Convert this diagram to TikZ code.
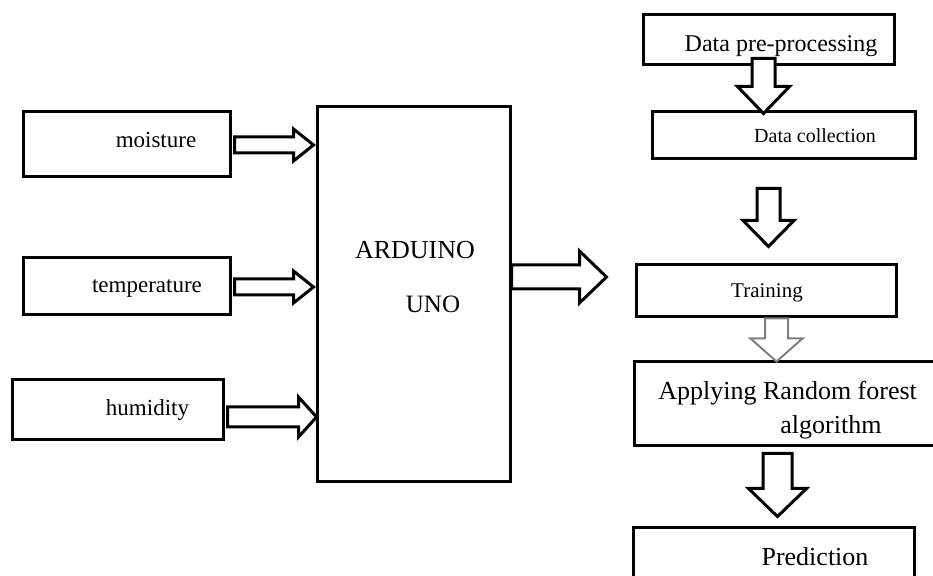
\documentclass[tikz,border=0pt]{standalone}
\usepackage{fontspec}
\setmainfont{Liberation Serif}
\usetikzlibrary{calc}

% hollow block arrows: start, tip, shaft half width, head half width, head length
\newcommand{\rarrow}[6][]{%
\draw[blockarrow,#1] ($(#2)+(0,-#4)$) -- ($(#3)+(-#6,-#4)$) -- ($(#3)+(-#6,-#5)$) -- (#3)
  -- ($(#3)+(-#6,#5)$) -- ($(#3)+(-#6,#4)$) -- ($(#2)+(0,#4)$) -- cycle;}
\newcommand{\darrow}[6][]{%
\draw[blockarrow,#1] ($(#2)+(-#4,0)$) -- ($(#3)+(-#4,-#6)$) -- ($(#3)+(-#5,-#6)$) -- (#3)
  -- ($(#3)+(#5,-#6)$) -- ($(#3)+(#4,-#6)$) -- ($(#2)+(#4,0)$) -- cycle;}

\begin{document}
\begin{tikzpicture}[x=0.5pt,y=-0.5pt,
  box/.style 2 args={draw,line width=1.5pt,inner sep=0pt,minimum width=#1*0.5pt,minimum height=#2*0.5pt},
  lbl/.style={inner sep=0pt,anchor=base,font=\fontsize{#1pt}{#1pt}\selectfont},
  blockarrow/.style={draw,line width=1.5pt,line join=miter,fill=white}]
\path[use as bounding box] (0,0) rectangle (933,576);
\clip (0,0) rectangle (933,576);

% sensors
\node[box={207}{65}] (moist) at (126.5,144.5) {};
\node[lbl=11.5] (moistT) at (156,148) {moisture};
\node[box={207}{57}] (temp) at (126.5,286.5) {};
\node[lbl=11.5] (tempT) at (147,293) {temperature};
\node[box={211}{60}] (hum) at (117.5,410) {};
\node[lbl=11.5] (humT) at (147.5,416) {humidity};

% board
\node[box={193}{375}] (ard) at (413.5,294.5) {};
\node[lbl=13] (ardT) at (415,259) {ARDUINO};
\node[lbl=12.5] (unoT) at (433,313) {UNO};

% model side
\node[box={251}{50}] (pre) at (768.5,40) {};
\node[lbl=12] (preT) at (781,52) {Data pre-processing};
\node[box={263}{47}] (col) at (783.5,135.5) {};
\node[lbl=10] (colT) at (815,143) {Data collection};
\node[box={260}{52}] (train) at (766,291) {};
\node[lbl=10.5] (trainT) at (767,298) {Training};
\node[box={320}{84}] (apply) at (794,404) {};
\node[inner sep=0pt,anchor=north west,align=left,font=\fontsize{13pt}{17pt}\selectfont] (applyT) at (658,381)
  {Applying Random forest\\\hspace*{61pt}algorithm};
\node[box={281}{72}] (pred) at (773.5,564) {};
\node[lbl=13] (predT) at (815,566) {Prediction};

% sensor arrows
\coordinate (m1) at ($(moist.east)+(3,0.5)$);
\coordinate (m2) at ($(ard.west |- m1)+(-2,0)$);
\rarrow{m1}{m2}{8}{16}{20}
\coordinate (t1) at ($(temp.east)+(3,0.5)$);
\coordinate (t2) at ($(ard.west |- t1)+(-2,0)$);
\rarrow{t1}{t2}{8}{16}{20}
\coordinate (h1) at ($(hum.east)+(3,7)$);
\coordinate (h2) at ($(ard.west |- h1)+(1,0)$);
\rarrow{h1}{h2}{10}{20}{18}
\coordinate (a1) at ($(ard.east)+(0,-17.5)$);
\coordinate (a2) at ($(a1)+(95,0)$);
\rarrow{a1}{a2}{12}{26}{27}

% flow arrows
\coordinate (p1) at ($(pre.south)+(-5,-8)$);
\coordinate (p2) at ($(col.north -| p1)+(0,3)$);
\darrow{p1}{p2}{11.5}{26}{27}
\coordinate (c1) at ($(col.south)+(-15,28)$);
\coordinate (c2) at ($(train.north -| c1)+(0,-17)$);
\darrow{c1}{c2}{11.5}{25.5}{26}
\coordinate (r1) at ($(train.south)+(10.5,0)$);
\coordinate (r2) at ($(apply.north -| r1)+(0,1)$);
\darrow[draw=black!50,line width=1pt]{r1}{r2}{11.5}{26}{23}
\coordinate (g1) at ($(apply.south)+(-16.5,6)$);
\coordinate (g2) at ($(pred.north -| g1)+(0,-10)$);
\darrow{g1}{g2}{14.5}{29}{28}
\end{tikzpicture}
\end{document}
